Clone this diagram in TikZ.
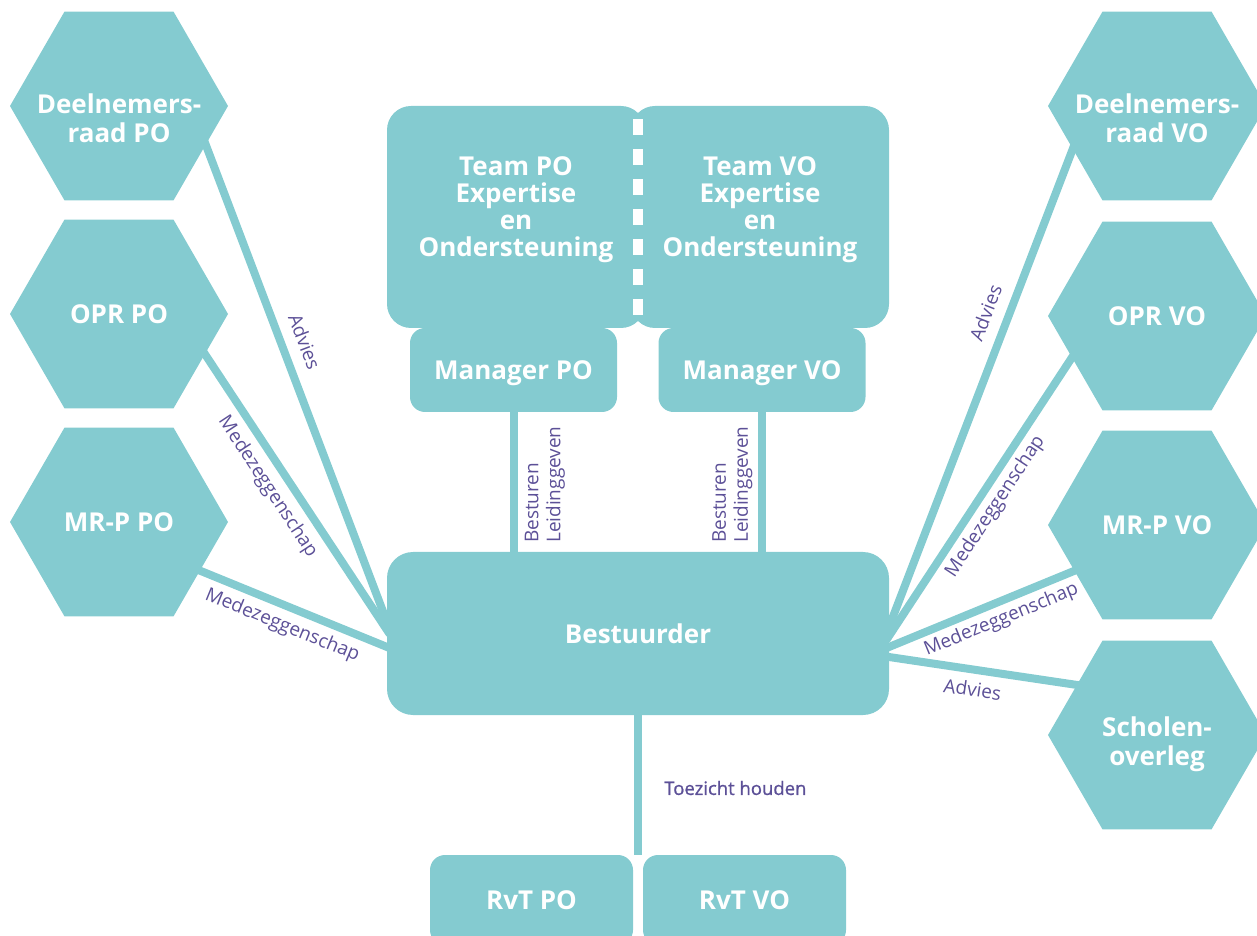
\documentclass[tikz,border=0pt]{standalone}
\usepackage{fontspec}
\setmainfont{Open Sans}
\newfontfamily\semib[FakeBold=1]{Open Sans}
\usepackage{tikz}
\usetikzlibrary{shapes.geometric,calc,backgrounds}
\definecolor{tealbox}{HTML}{84CBD0}
\definecolor{purp}{HTML}{5C5097}

\begin{document}
\begin{tikzpicture}[x=1pt,y=1pt,
		box/.style={fill=tealbox, text=white, font=\bfseries\fontsize{26}{27}\selectfont, align=center, text depth=0pt, inner sep=0pt, outer sep=0pt},
		hexa/.style={regular polygon, regular polygon sides=6, minimum size=218pt, fill=tealbox, text=white, font=\bfseries\fontsize{26}{29}\selectfont, align=center, inner sep=-40pt, outer sep=0pt},
		twoline/.style={text height=#1},
		conn/.style={draw=tealbox, line width=8pt},
		ext/.style={shorten <=-5pt, shorten >=-5pt},
		lbl/.style={text=purp, font=\fontsize{19}{22}\selectfont}]
		\useasboundingbox (0,0) rectangle (1257,935);
		%
		\node[box, rounded corners=24pt, minimum width=258pt, minimum height=222pt, text depth=20pt] (tpo) at (516,718) {Team PO\\Expertise\\en\\Ondersteuning};
		\node[box, rounded corners=24pt, minimum width=258pt, minimum height=222pt, text depth=20pt] (tvo) at (760,718) {Team VO\\Expertise\\en\\Ondersteuning};
		\node[box, rounded corners=15pt, minimum width=207pt, minimum height=84pt] (mpo) at (513.5,565) {Manager PO};
		\node[box, rounded corners=15pt, minimum width=207pt, minimum height=84pt] (mvo) at (762,565) {Manager VO};
		\node[box, rounded corners=26pt, minimum width=502pt, minimum height=163pt] (best) at (638,301.5) {Bestuurder};
		\node[box, rounded corners=15pt, minimum width=203pt, minimum height=90pt, anchor=north] (rpo) at (531.5,80) {RvT PO};
		\node[box, rounded corners=15pt, minimum width=203pt, minimum height=90pt, anchor=north] (rvo) at (744.5,80) {RvT VO};
		\coordinate (rvt) at ($(rpo.north east)!.5!(rvo.north west)$);
		%
		\node[hexa, twoline=73pt] (dpo) at (119,829) {Deelnemers-\\raad PO};
		\node[hexa] (opo) at (119,621) {OPR PO};
		\node[hexa] (mrpo) at (119,413) {MR-P PO};
		\node[hexa, twoline=73pt] (dvo) at (1157,829) {Deelnemers-\\raad VO};
		\node[hexa] (ovo) at (1157,619) {OPR VO};
		\node[hexa] (mrvo) at (1157,410) {MR-P VO};
		\node[hexa, twoline=67pt] (svo) at (1157,200) {Scholen-\\overleg};
		%
		\draw[white, line width=10pt, dash pattern=on 16pt off 14pt] ($(tpo.north east)!.5!(tvo.north west)+(0,-13)$) -- ($(tpo.south east)!.5!(tvo.south west)+(0,12)$);
		%
		\begin{scope}[on background layer]
		\draw[conn, ext] (mpo.south) -- (mpo.south |- best.north);
		\draw[conn, ext] (mvo.south) -- (mvo.south |- best.north);
		\draw[conn] (best.south) -- node[lbl, right, xshift=19pt, yshift=-3pt, font=\semib\fontsize{18.5}{20}\selectfont] {Toezicht houden} (rvt);
		%
		\draw[conn, ext] (dpo.-24.4) -- node[lbl, sloped, above=8pt, pos=.43] {Advies} ([yshift=11.5pt]best.west);
		\draw[conn, ext] (opo.-25.8) -- node[lbl, sloped, below=4pt, pos=.44] {Medezeggenschap} ([yshift=3.5pt]best.west);
		\draw[conn, ext] (mrpo.-31.2) -- node[lbl, sloped, below=3pt, pos=.48] {Medezeggenschap} ([yshift=-13.5pt]best.west);
		\draw[conn, ext] ([yshift=6.5pt]best.east) -- node[lbl, sloped, above=8pt, pos=.64] {Advies} (dvo.207.6);
		\draw[conn, ext] ([yshift=-2.5pt]best.east) -- node[lbl, sloped, below=1pt, pos=.5] {Medezeggenschap} (ovo.206.3);
		\draw[conn, ext] ([yshift=-13.5pt]best.east) -- node[lbl, sloped, below=1pt, pos=.57] {Medezeggenschap} (mrvo.209.8);
		\draw[conn, ext] ([yshift=-23.5pt]best.east) -- node[lbl, sloped, below=5pt, pos=.46] {Advies} (svo.148.5);
		\end{scope}
		%
		\node[lbl, rotate=90, anchor=north west, align=left, inner sep=0pt] (bpo) at ($(mpo.south |- best.north)+(11,9)$) {Besturen\\Leidinggeven};
		\node[lbl, rotate=90, anchor=north west, align=left, inner sep=0pt] (bvo) at ($(mvo.south |- best.north)+(-50,9)$) {Besturen\\Leidinggeven};
	\end{tikzpicture}
\end{document}
